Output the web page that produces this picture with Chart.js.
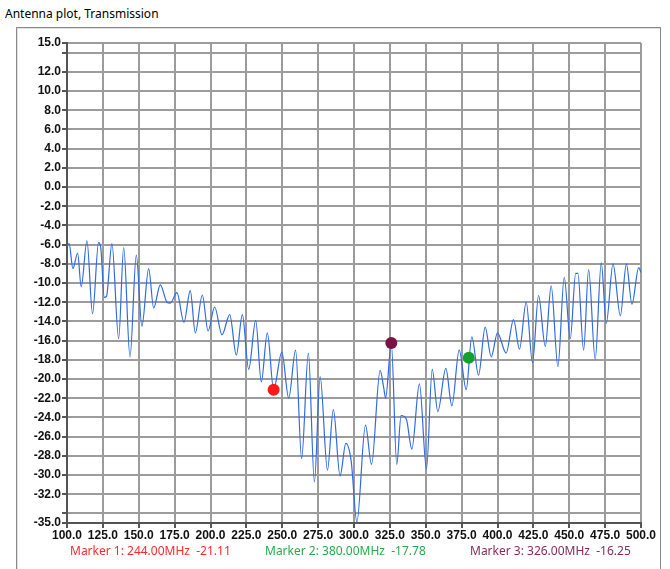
<!DOCTYPE html>
<html>
<head>
<meta charset="utf-8">
<script src="https://cdn.jsdelivr.net/npm/chart.js@4"></script>
<style>
  html, body { margin:0; padding:0; background:#ffffff; width:670px; height:569px; overflow:hidden; }
  #wrap { position:relative; width:670px; height:569px; }
  #title { position:absolute; left:5px; top:5px; font:12px "Noto Sans", "Open Sans", sans-serif; color:#000; white-space:nowrap; }
  #frame { position:absolute; left:16px; top:27px; width:643px; height:560px; border:1px solid #8a8a8a; box-shadow: inset 1px 1px 0 #e0e0e0; }
  canvas { position:absolute; left:0; top:0; }
  .mk { position:absolute; top:542px; font:12px "Noto Sans", "Open Sans", sans-serif; white-space:pre; }
</style>
</head>
<body>
<div id="wrap">
  <div id="frame"></div>
  <div id="title">Antenna plot, Transmission</div>
  <canvas id="c" width="670" height="569"></canvas>
  <div id="m1" class="mk"></div>
  <div id="m2" class="mk"></div>
  <div id="m3" class="mk"></div>
</div>
<script>
// ---- data ----
const freqs = [100,101.5,104.1,107.4,109.9,113.9,117.8,122,123.5,126,127.5,131.3,136,139.5,143.9,148.3,152.2,156.9,160.4,165,169.7,172,176.6,181.5,185.9,189.4,194.3,198.3,202.9,208,213.4,218,222.2,226.6,231.5,235.4,239.6,244,249.7,254.5,259.3,263.5,268.2,272.4,276.4,281.5,285.6,290.3,294.3,298,302,308,312.2,318.2,320.8,322,326,329.8,332.8,336.5,340.3,345.6,350.5,354.5,358.4,364,368.2,373.3,378.2,382.1,386.8,391.4,395.6,400,406,411.2,415.3,420,424.4,428.6,433.3,437.4,442.1,446.5,450.7,454.5,456,460,463.5,468.1,472.3,475.8,480.5,485.6,489.8,493.7,498.4,500];
const transmission = [-6.2,-5.9,-8.5,-6.9,-10.4,-5.6,-13.2,-5.8,-6.3,-11.5,-11.4,-5.9,-15.8,-6.3,-17.7,-7.1,-14.5,-8.5,-12.6,-10.2,-12.0,-12.1,-11.0,-14.1,-10.8,-15.2,-11.25,-15.0,-12.5,-15.4,-13.3,-17.5,-13.3,-19.0,-13.9,-20.3,-15.2,-21.1,-17.2,-22.0,-17.0,-28.3,-17.3,-30.7,-19.75,-29.5,-23.2,-30.1,-26.7,-28.5,-34.9,-24.8,-28.9,-19.1,-21.0,-22.0,-16.3,-28.9,-23.8,-24.2,-27.3,-20.5,-29.4,-19.0,-23.4,-18.9,-22.8,-17.0,-21.1,-15.6,-19.6,-14.6,-17.7,-15.2,-17.3,-13.8,-16.9,-12.0,-18.3,-11.3,-16.6,-10.3,-18.7,-9.4,-15.8,-9.0,-9.0,-17.0,-8.6,-17.95,-7.9,-14.2,-8.0,-13.4,-8.0,-12.2,-8.4,-8.9];
const markerNames = ['Marker 1', 'Marker 2', 'Marker 3'];
const markerFreqs = [244.00, 380.00, 326.00];
const markerValues = [-21.11, -17.78, -16.25];
const yTickValues = [-35,-34,-32,-30,-28,-26,-24,-22,-20,-18,-16,-14,-12,-10,-8,-6,-4,-2,0,2,4,6,8,10,12,14,15];
const yHiddenLabels = [-34, 14];

// ---- styles ----
const markerColors = ['#ff1a1a', '#13a02c', '#7b1246'];
const markerTextColors = ['#ff2a2a', '#2aaa4a', '#8b2a5a'];
const markerLeft = [70, 265, 470];

const lineData = freqs.map((f, i) => ({x: f, y: transmission[i]}));
const markerData = markerFreqs.map((f, i) => ({x: f, y: markerValues[i]}));

markerNames.forEach((n, i) => {
  const el = document.getElementById('m' + (i + 1));
  el.textContent = n + ': ' + markerFreqs[i].toFixed(2) + 'MHz  ' + markerValues[i].toFixed(2);
  el.style.color = markerTextColors[i];
  el.style.left = markerLeft[i] + 'px';
});

const tickFont = {family: '"Liberation Sans", Arial, sans-serif', size: 12, weight: 'bold'};

new Chart(document.getElementById('c'), {
  type: 'scatter',
  data: {
    datasets: [
      {
        data: markerData,
        showLine: false,
        pointRadius: 6,
        pointHoverRadius: 6,
        pointBackgroundColor: markerColors,
        pointBorderColor: markerColors,
        pointBorderWidth: 0,
        order: 0
      },
      {
        data: lineData,
        showLine: true,
        borderColor: '#2f6be6',
        borderWidth: 1.2,
        pointRadius: 0,
        cubicInterpolationMode: 'monotone',
        fill: false,
        order: 1
      }
    ]
  },
  options: {
    responsive: false,
    animation: false,
    events: [],
    layout: { padding: { left: 0, right: 29, top: 43, bottom: 26 } },
    plugins: { legend: { display: false }, tooltip: { enabled: false }, title: { display: false } },
    scales: {
      x: {
        type: 'linear',
        min: 100, max: 500,
        afterFit: s => { s.height = 20; },
        ticks: {
          stepSize: 25, autoSkip: false, maxRotation: 0, minRotation: 0,
          color: '#111', font: tickFont, padding: 0,
          callback: v => Number(v).toFixed(1)
        },
        grid: { color: '#9c9c9c', lineWidth: 2, tickLength: 5, tickColor: '#555' },
        border: { color: '#555', width: 2 }
      },
      y: {
        type: 'linear',
        min: -35, max: 15,
        afterFit: s => { s.width = 67; },
        afterBuildTicks: s => { s.ticks = yTickValues.map(v => ({value: v})); },
        ticks: {
          autoSkip: false, color: '#111', font: tickFont, padding: 1,
          callback: v => yHiddenLabels.includes(v) ? '' : Number(v).toFixed(1)
        },
        grid: { color: '#9c9c9c', lineWidth: 2, tickLength: 5, tickColor: '#555' },
        border: { color: '#555', width: 2 }
      }
    }
  }
});
</script>
</body>
</html>
